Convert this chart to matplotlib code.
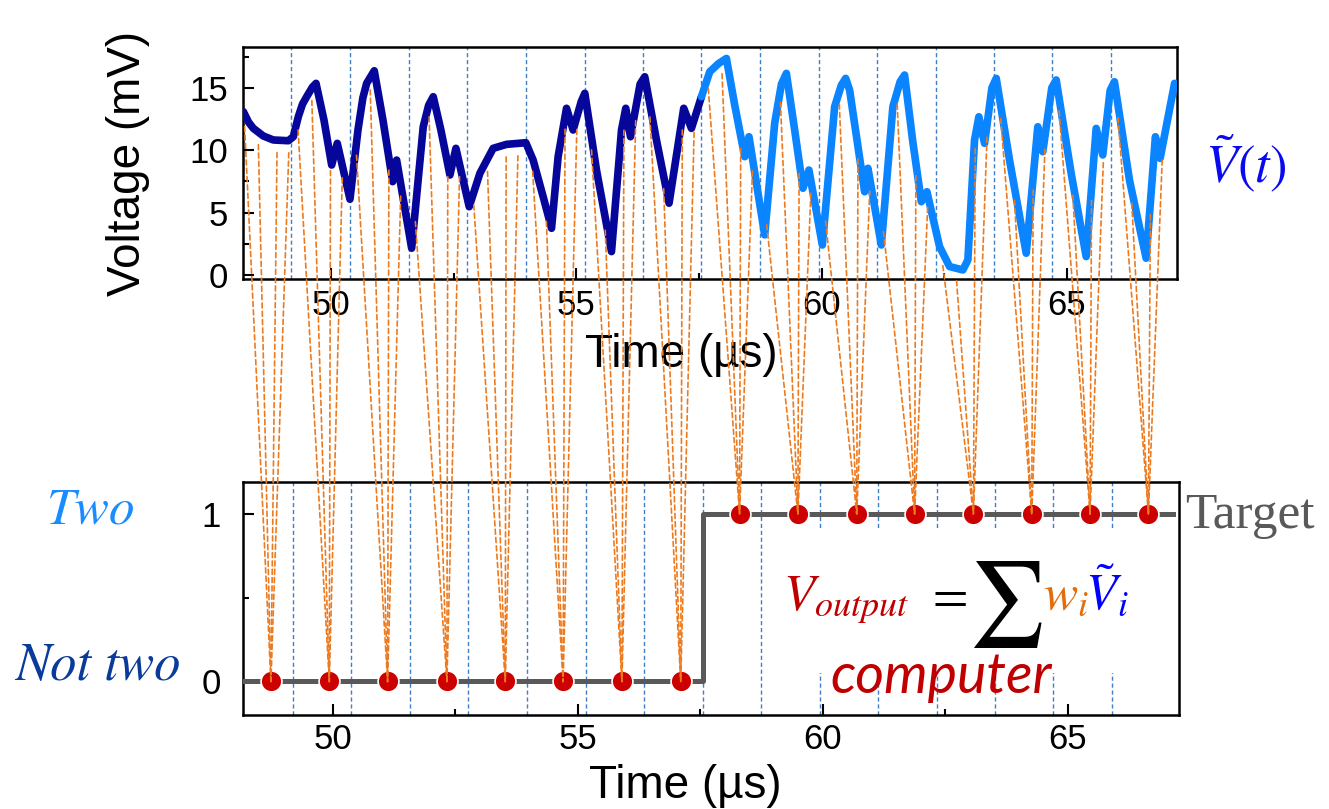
import numpy as np
import matplotlib
matplotlib.use("Agg")
import matplotlib.pyplot as plt
from matplotlib.patches import ConnectionPatch, Rectangle
from matplotlib.ticker import MultipleLocator

plt.rcParams['font.family'] = ['Liberation Sans', 'DejaVu Sans']
plt.rcParams['mathtext.fontset'] = 'stix'

# Reservoir response V~(t) while the "Not two" input is shown (µs, mV)
t_dark = [48.214, 48.32, 48.418, 48.621, 48.825, 49.130, 49.232, 49.334, 49.42, 49.505,
          49.62, 49.695, 49.857, 50.014, 50.128, 50.387, 50.550, 50.65, 50.727, 50.882,
          51.059, 51.257, 51.338, 51.644, 51.880, 51.99, 52.084, 52.240, 52.424, 52.546,
          52.817, 53.035, 53.305, 53.578, 53.971, 54.120, 54.324, 54.495, 54.629, 54.800,
          54.935, 55.10, 55.173, 55.411, 55.717, 55.921, 56.008, 56.104, 56.30, 56.395,
          56.633, 56.890, 57.189, 57.346, 57.550]
v_dark = [13.09, 12.25, 11.75, 11.14, 10.82, 10.76, 11.08, 12.68, 13.70, 14.29,
          15.05, 15.36, 12.42, 8.81, 10.55, 6.07, 11.62, 14.20, 15.36, 16.37,
          12.42, 7.48, 9.21, 2.14, 11.88, 13.60, 14.29, 11.62, 8.01, 10.15,
          5.47, 8.15, 10.15, 10.47, 10.60, 9.21, 6.27, 3.74, 9.48, 13.36,
          11.62, 13.90, 14.56, 8.41, 1.87, 11.62, 13.36, 11.08, 15.30, 15.89,
          10.82, 5.75, 13.36, 11.75, 14.29]

# Reservoir response while the "Two" input is shown
t_light = [57.550, 57.719, 57.90, 58.059, 58.228, 58.432, 58.519, 58.839, 59.043, 59.18,
           59.281, 59.450, 59.619, 59.741, 60.014, 60.265, 60.40, 60.489, 60.570, 60.876,
           60.943, 61.216, 61.452, 61.60, 61.690, 61.853, 62.031, 62.145, 62.403, 62.607,
           62.878, 62.980, 63.116, 63.204, 63.320, 63.47, 63.558, 63.829, 64.169, 64.405,
           64.507, 64.69, 64.780, 65.085, 65.391, 65.595, 65.729, 65.88, 65.967, 66.273,
           66.613, 66.802, 66.898, 67.193]
v_light = [14.29, 16.29, 16.95, 17.36, 13.62, 9.48, 11.08, 3.21, 12.16, 15.30,
           16.16, 11.62, 6.95, 8.41, 2.40, 13.49, 15.20, 15.76, 14.82, 6.67,
           8.55, 2.40, 13.49, 15.50, 16.03, 10.82, 5.87, 6.67, 2.27, 0.67,
           0.40, 1.20, 10.82, 12.68, 10.55, 15.00, 15.76, 9.21, 1.74, 11.88,
           9.88, 15.00, 15.63, 8.15, 1.47, 11.75, 9.62, 14.80, 15.49, 7.61,
           1.34, 11.08, 9.35, 15.36]

# Boundaries between successive input time slots
slot_bounds = [49.19, 50.38, 51.58, 52.77, 53.97, 55.17, 56.36, 57.55,
               58.74, 59.94, 61.12, 62.33, 63.51, 64.70, 65.90]
first_slot_start = 48.10
# Virtual-node sampling instants, measured from each slot start (µs)
node_offsets = [0.14, 0.42, 0.80, 1.04]

# Readout instants and target classes (0 = Not two, 1 = Two)
readout_t = [48.74, 49.93, 51.12, 52.33, 53.52, 54.70, 55.90, 57.10,
             58.30, 59.49, 60.69, 61.87, 63.07, 64.26, 65.45, 66.64]
readout_class = [0, 0, 0, 0, 0, 0, 0, 0, 1, 1, 1, 1, 1, 1, 1, 1]

# Target signal
target_t = [48.17, 57.55, 67.15]
target_v = [0, 1, 1]

W, H = 1329, 809
fig = plt.figure(figsize=(W / 100, H / 100), dpi=100)
ax1 = fig.add_axes([243.3 / W, 1 - 279.3 / H, 933.4 / W, 232 / H])
ax2 = fig.add_axes([243 / W, 1 - 715 / H, 936 / W, 233 / H])

slot_color = '#3F7FC8'
for ax in (ax1, ax2):
    for b in slot_bounds:
        ax.axvline(b, color=slot_color, lw=1.0, ls=(0, (3, 2)), zorder=1)
    for s in ax.spines.values():
        s.set_linewidth(1.8)
    ax.tick_params(which='both', direction='in', top=False, right=False, width=1.5)
    ax.tick_params(which='major', length=8, labelsize=25)
    ax.tick_params(which='minor', length=4)
    ax.xaxis.set_major_locator(MultipleLocator(5))
    ax.xaxis.set_minor_locator(MultipleLocator(2.5))

# --- top: reservoir voltage ---
ax1.plot(t_dark, v_dark, color='#06069A', lw=5.5, solid_joinstyle='round',
         solid_capstyle='round', zorder=3)
ax1.plot(t_light, v_light, color='#0A84FF', lw=5.5, solid_joinstyle='round',
         solid_capstyle='round', zorder=3)
ax1.set_xlim(48.213, 67.236)
ax1.set_ylim(-0.35, 18.25)
ax1.yaxis.set_major_locator(MultipleLocator(5))
ax1.yaxis.set_minor_locator(MultipleLocator(2.5))
ax1.tick_params(axis='y', pad=11)
ax1.tick_params(axis='x', pad=7)
ax1.set_ylabel('Voltage (mV)', fontsize=33)
ax1.yaxis.label.set_va('baseline')
ax1.yaxis.set_label_coords(-0.1107, 0.5)
ax1.set_xlabel('Time (µs)', fontsize=33)
ax1.xaxis.label.set_va('baseline')
ax1.xaxis.set_label_coords(0.469, -0.378)

# --- bottom: target and readout ---
ax2.add_patch(Rectangle((59.1, 0.05), 7.6, 0.86, facecolor='white',
                        edgecolor='none', zorder=2))
ax2.plot(target_t, target_v, drawstyle='steps-post', color='#595959', lw=3.6,
         zorder=3)
ax2.plot(readout_t, readout_class, 'o', ls='none', ms=15, mfc='#CC0000',
         mec='white', mew=1.2, zorder=4)
ax2.set_xlim(48.17, 67.264)
ax2.set_ylim(-0.2, 1.19)
ax2.set_yticks([0, 1])
ax2.yaxis.set_minor_locator(MultipleLocator(0.5))
ax2.tick_params(axis='y', pad=16)
ax2.tick_params(axis='x', pad=6)
ax2.set_xlabel('Time (µs)', fontsize=33)
ax2.xaxis.label.set_va('baseline')
ax2.xaxis.set_label_coords(0.473, -0.356)

# Virtual-node samples feeding each readout
curve_t = np.array(t_dark + t_light[1:])
curve_v = np.array(v_dark + v_light[1:])
for k, (tr, cls) in enumerate(zip(readout_t, readout_class)):
    start = first_slot_start if k == 0 else slot_bounds[k - 1]
    for off in node_offsets:
        ts = start + off
        vs = np.interp(ts, curve_t, curve_v) - 1.0
        con = ConnectionPatch(xyA=(ts, vs), coordsA=ax1.transData,
                              xyB=(tr, cls), coordsB=ax2.transData,
                              color='#EE7A1E', lw=1.2, ls=(0, (3, 2)), zorder=5)
        fig.add_artist(con)


def px(x, y):
    return x / W, 1 - y / H


fig.text(*px(1205, 182), r'$\tilde{V}(t)$', color='#0A0AF0', fontsize=38,
         ha='left', va='baseline')
fig.text(*px(91, 523), 'Two', color='#1A8CFF', fontsize=37, family='STIXGeneral',
         style='italic', ha='center', va='baseline')
fig.text(*px(98, 680), 'Not two', color='#0A3A9A', fontsize=38, family='STIXGeneral',
         style='italic', ha='center', va='baseline')
fig.text(*px(1185, 528), 'Target', color='#595959', fontsize=37,
         family='Liberation Serif', ha='left', va='baseline')

# Linear readout formula
fig.text(*px(783, 610), r'$V_{output}$', color='#C00000', fontsize=37,
         ha='left', va='baseline')
fig.text(*px(925, 610), r'$=$', color='black', fontsize=37, ha='left', va='baseline')
fig.text(*px(968, 626), r'$\sum$', color='black', fontsize=61, ha='left', va='baseline')
fig.text(*px(1043, 610), r'$w_i$', color='#E46C0A', fontsize=37, ha='left', va='baseline')
fig.text(*px(1085, 610), r'$\tilde{V}_i$', color='#0000FF', fontsize=37,
         ha='left', va='baseline')
fig.text(*px(941, 693), 'computer', color='#C00000', fontsize=40, family='Lato',
         style='italic', ha='center', va='baseline')

fig.savefig('out.png', dpi=100)
